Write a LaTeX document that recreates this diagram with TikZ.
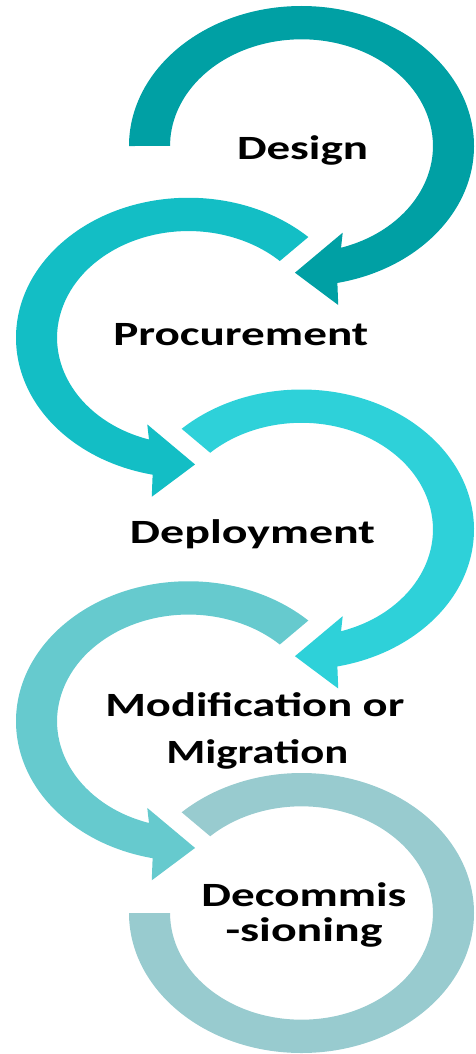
\documentclass[tikz,border=0pt]{standalone}
\usepackage{fontspec}
\setmainfont{Carlito}
\definecolor{cA}{RGB}{0,160,164}
\definecolor{cB}{RGB}{19,190,197}
\definecolor{cC}{RGB}{46,209,217}
\definecolor{cD}{RGB}{102,202,206}
\definecolor{cE}{RGB}{152,203,207}
% circular arrow in unit-circle coordinates, #1 = tail angle
\newcommand\circarrow[2]{%
  \fill[#2] (#1:1) arc[start angle=#1, end angle=-78, radius=1]
    -- (0.213,-1.136) -- (-0.038,-0.905) -- (0.239,-0.619)
    -- (-72.5:0.762) arc[start angle=-72.5, end angle=#1, radius=0.762] -- cycle;}
\begin{document}
\begin{tikzpicture}[x=1pt,y=1pt,
  lbl/.style={inner sep=0pt, anchor=base, text=black,
    font=\fontsize{34}{40}\selectfont\bfseries}]
\useasboundingbox (0,0) rectangle (475,-1054);
% shape 1: Design
\begin{scope}[shift={(301.5,-146)}, xscale=172.5, yscale=140]
  \circarrow{180}{cA}
\end{scope}
% shape 2: Procurement (mirrored)
\begin{scope}[shift={(188.5,-337.75)}, xscale=-172.5, yscale=140]
  \circarrow{134}{cB}
\end{scope}
% shape 3: Deployment
\begin{scope}[shift={(301.5,-529.5)}, xscale=172.5, yscale=140]
  \circarrow{134}{cC}
\end{scope}
% shape 4: Modification (mirrored)
\begin{scope}[shift={(188.5,-721.25)}, xscale=-172.5, yscale=140]
  \circarrow{134}{cD}
\end{scope}
% shape 5: Decommissioning ring
\begin{scope}[shift={(301.5,-913)}, xscale=172.5, yscale=140]
  \fill[cE] (180:1) arc[start angle=180, end angle=494, radius=1]
    -- (494:0.762) arc[start angle=494, end angle=180, radius=0.762] -- cycle;
\end{scope}
% labels
\node[lbl] (t1) at (302.5,-159.3) {\resizebox{131pt}{\height}{Design}};
\node[lbl] (t2) at (240.8,-345) {\resizebox{255pt}{\height}{Procurement}};
\node[lbl] (t3) at (252.5,-543.3) {\resizebox{245pt}{\height}{Deployment}};
\node[lbl] (t4) at (254.8,-716.7) {\resizebox{299pt}{\height}{Modification or}};
\node[lbl] (t5) at (257.3,-763.3) {\resizebox{182pt}{\height}{Migration}};
\node[lbl] (t6) at (304,-906.7) {\resizebox{205pt}{\height}{Decommis}};
\node[lbl] (t7) at (304,-941.7) {\resizebox{157pt}{\height}{-sioning}};
\end{tikzpicture}
\end{document}
